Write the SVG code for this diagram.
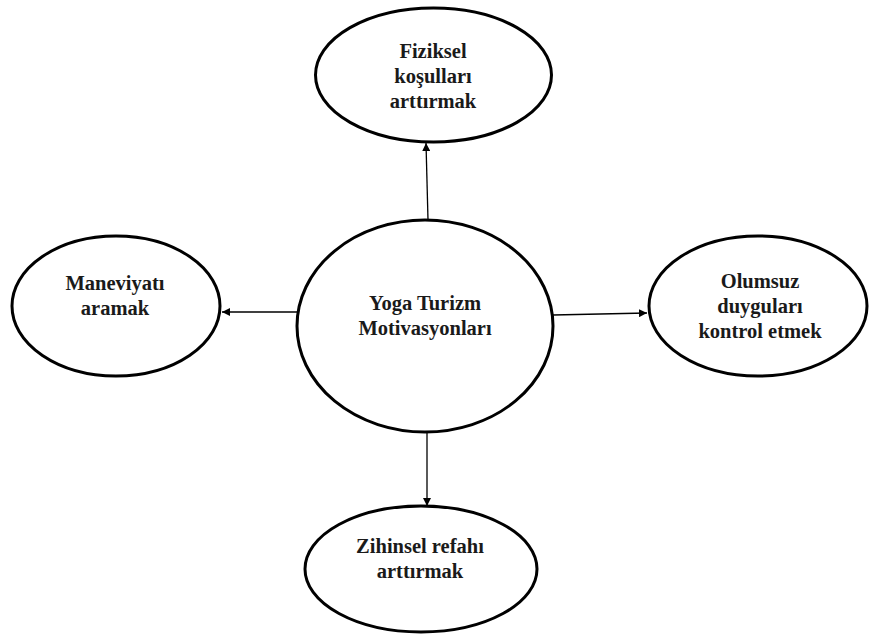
<svg xmlns="http://www.w3.org/2000/svg" width="869" height="635" viewBox="0 0 869 635">
  <style>
    .node ellipse { fill: #ffffff; stroke: #000000; stroke-width: 3; }
    .label { font-family: 'Liberation Serif', 'Times New Roman', serif; font-weight: 700; font-size: 20.5px; fill: #1a1a1a; text-anchor: middle; }
    .edge { stroke: #000000; stroke-width: 1.3; fill: none; marker-end: url(#arrow); }
  </style>
  <defs>
    <marker id="arrow" viewBox="0 0 10 10" refX="10" refY="5" markerWidth="8" markerHeight="8" markerUnits="userSpaceOnUse" orient="auto">
      <path d="M0,0 L10,5 L0,10 Z" fill="#000000"/>
    </marker>
  </defs>
  <rect width="869" height="635" fill="#ffffff"/>

  <g id="connectors">
    <line class="edge" x1="428" y1="220" x2="426" y2="143"/>
    <line class="edge" x1="297" y1="312" x2="222" y2="312"/>
    <line class="edge" x1="553" y1="315" x2="647" y2="313"/>
    <line class="edge" x1="427" y1="432" x2="427" y2="506"/>
  </g>

  <g id="node-center" class="node">
    <ellipse cx="425" cy="326" rx="128" ry="106"/>
    <text class="label" x="425" y="310">Yoga Turizm</text>
    <text class="label" x="425" y="335">Motivasyonları</text>
  </g>

  <g id="node-top" class="node">
    <ellipse cx="433.5" cy="75" rx="118" ry="67"/>
    <text class="label" x="433" y="58">Fiziksel</text>
    <text class="label" x="433" y="83">koşulları</text>
    <text class="label" x="433" y="108">arttırmak</text>
  </g>

  <g id="node-left" class="node">
    <ellipse cx="116" cy="306" rx="104" ry="70"/>
    <text class="label" x="115" y="290">Maneviyatı</text>
    <text class="label" x="115" y="315">aramak</text>
  </g>

  <g id="node-right" class="node">
    <ellipse cx="758" cy="306" rx="109" ry="70"/>
    <text class="label" x="760" y="288">Olumsuz</text>
    <text class="label" x="760" y="313">duyguları</text>
    <text class="label" x="760" y="338">kontrol etmek</text>
  </g>

  <g id="node-bottom" class="node">
    <ellipse cx="421" cy="569" rx="116" ry="63"/>
    <text class="label" x="420" y="553">Zihinsel refahı</text>
    <text class="label" x="420" y="578">arttırmak</text>
  </g>
</svg>
